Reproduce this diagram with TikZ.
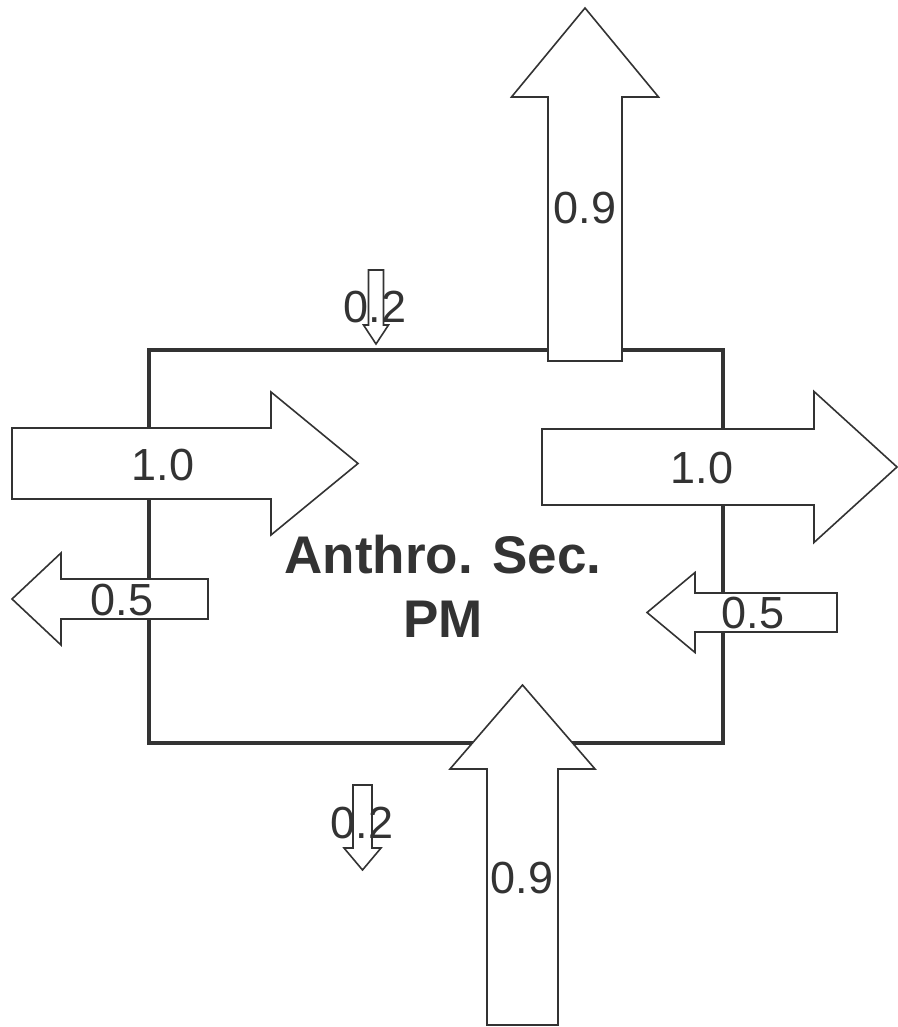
\documentclass[tikz,border=0pt]{standalone}
\usepackage{fontspec}
\setmainfont{Liberation Sans}
\setsansfont{Liberation Sans}
\definecolor{linea}{HTML}{333333}
\definecolor{testo}{HTML}{333333}
\tikzset{
  % riquadro del settore
  box/.style={draw=linea, line width=4pt, minimum width=574pt, minimum height=393pt,
    inner sep=0pt},
  % freccia di flusso (contorno pieno bianco)
  flow/.style={draw=linea, line width=1.6pt, fill=white, line join=miter},
  % etichette dei flussi
  lbl/.style={font=\fontsize{45}{54}\selectfont, text=testo, inner sep=0pt},
  % titolo del settore
  title/.style={font=\fontsize{53}{64}\selectfont\bfseries, text=testo, align=center,
    inner sep=0pt},
}

\begin{document}
\begin{tikzpicture}[x=1pt, y=1pt]
  \useasboundingbox (0,0) rectangle (897,1027);
  % #1 coda, #2 angolo, #3 lunghezza, #4 mezzo fusto, #5 mezza punta, #6 lunghezza punta
  \newcommand{\flusso}[6]{%
    \begin{scope}[shift={(#1)}, rotate=#2]
      \draw[flow] (0,-#4) -- ({#3-#6},-#4) -- ({#3-#6},-#5) -- (#3,0)
        -- ({#3-#6},#5) -- ({#3-#6},#4) -- (0,#4) -- cycle;
    \end{scope}}
  \node[box] (settore) at (436,480.5) {};
  \flusso{585,666}{90}{353}{37}{73.5}{89}
  \flusso{376,757}{-90}{74}{7.5}{12.5}{19}
  \flusso{12,563.5}{0}{346}{35.5}{71.5}{87}
  \flusso{208,428}{180}{196}{20}{46}{49}
  \flusso{542,560}{0}{355}{38}{75.5}{83}
  \flusso{837,414.5}{180}{190}{19.5}{40}{48}
  \flusso{522.5,2}{90}{340}{35.5}{72.5}{84}
  \flusso{362.5,242}{-90}{85}{9.5}{18.5}{22}
  \node[lbl] (suNove) at (585,819) {0.9};
  \node[lbl] (suDue) at (375,720) {0.2};
  \node[lbl] (sxUno) at (163,562) {1.0};
  \node[lbl] (sxMezzo) at (122,427) {0.5};
  \node[lbl] (dxUno) at (702,559) {1.0};
  \node[lbl] (dxMezzo) at (753,414) {0.5};
  \node[lbl] (giuNove) at (522,149) {0.9};
  \node[lbl] (giuDue) at (362,204) {0.2};
  \node[title] (nome) at (443,441) {Anthro. Sec.\\PM};
\end{tikzpicture}
\end{document}
